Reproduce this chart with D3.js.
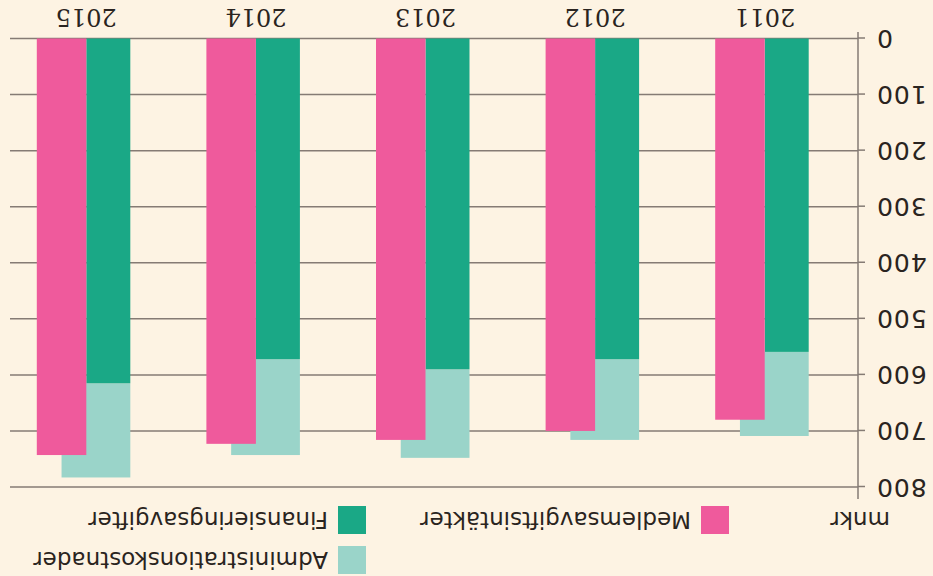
<!DOCTYPE html>
<html>
<head>
<meta charset="utf-8">
<script src="https://cdn.jsdelivr.net/npm/d3@7"></script>
<style>
  html, body { margin: 0; padding: 0; background: #FDF3E3; }
  svg { display: block; }
</style>
</head>
<body>
<svg id="chart" width="933" height="576"></svg>
<script>
// ---- data ----
const years = ["2011", "2012", "2013", "2014", "2015"];
const medlemsavgiftsintakter = [680, 700, 716, 723, 743];
const finansieringsavgifter = [559, 572, 590, 572, 615];
const administrationskostnader = [150, 144, 158, 171, 168];
const yTicks = [0, 100, 200, 300, 400, 500, 600, 700, 800];
const seriesNames = ["Medlemsavgiftsintäkter", "Finansieringsavgifter", "Administrationskostnader"];
const unitLabel = "mnkr";

// ---- styles ----
const W = 933, H = 576;
const colPink = "#EF5A9C", colGreen = "#1AA886", colTeal = "#9AD4C9";
const colText = "#2a2420", colGrid = "#857b74", bg = "#FDF3E3";

const svg = d3.select("#chart");
svg.append("rect").attr("width", W).attr("height", H).attr("fill", bg);

// whole chart is drawn rotated 180 degrees, as in the reference
const g = svg.append("g").attr("transform", `rotate(180, ${W / 2}, ${H / 2})`);

const x = d3.scaleBand().domain(years).range([85, 933]).padding(0);
const y = d3.scaleLinear().domain([0, 800]).range([537.5, 89]);

const axisX = 75;
const gridRight = 923;

// gridlines
g.append("g").selectAll("line").data(yTicks).join("line")
  .attr("x1", axisX).attr("x2", gridRight)
  .attr("y1", d => y(d)).attr("y2", d => y(d))
  .attr("stroke", colGrid).attr("stroke-width", 1.5);

// bars
const greenW = 44, pinkW = 49.5;
const center = yr => x(yr) + x.bandwidth() / 2 - 1.5;
const rows = years.map((yr, i) => ({
  yr, med: medlemsavgiftsintakter[i], fin: finansieringsavgifter[i], adm: administrationskostnader[i]
}));
const bars = g.append("g");
// admin stacked on top of financing, drawn behind the pink bar
bars.selectAll(".adm").data(rows).join("rect")
  .attr("x", d => center(d.yr) - greenW)
  .attr("width", greenW + pinkW / 2)
  .attr("y", d => y(d.fin + d.adm))
  .attr("height", d => y(d.fin) - y(d.fin + d.adm))
  .attr("fill", colTeal);
bars.selectAll(".fin").data(rows).join("rect")
  .attr("x", d => center(d.yr) - greenW)
  .attr("width", greenW)
  .attr("y", d => y(d.fin))
  .attr("height", d => y(0) - y(d.fin))
  .attr("fill", colGreen);
bars.selectAll(".med").data(rows).join("rect")
  .attr("x", d => center(d.yr))
  .attr("width", pinkW)
  .attr("y", d => y(d.med))
  .attr("height", d => y(0) - y(d.med))
  .attr("fill", colPink);

// y axis
const yAxis = d3.axisLeft(y).tickValues(yTicks).tickSize(7).tickPadding(11).tickFormat(d3.format("d"));
const ya = g.append("g").attr("transform", `translate(${axisX},0)`).call(yAxis);
ya.select(".domain").remove();
ya.append("line").attr("x1", 0).attr("x2", 0).attr("y1", 77).attr("y2", 544)
  .attr("stroke", colGrid).attr("stroke-width", 1.5);
ya.selectAll(".tick line").attr("stroke", colGrid).attr("stroke-width", 1.5);
ya.selectAll(".tick text")
  .attr("fill", colText)
  .style("font-family", "'DejaVu Sans', sans-serif")
  .style("font-size", "25px")
  .style("letter-spacing", "1px");

// year labels
g.append("g").selectAll("text").data(years).join("text")
  .attr("x", d => center(d)).attr("y", 567)
  .attr("text-anchor", "middle")
  .attr("fill", colText)
  .style("font-family", "'DejaVu Serif', serif")
  .style("font-size", "24px")
  .text(d => d);

// legend
const legend = [
  { name: seriesNames[0], color: colPink, x: 204, y: 42 },
  { name: seriesNames[1], color: colGreen, x: 567, y: 42 },
  { name: seriesNames[2], color: colTeal, x: 567, y: 2 }
];
const lg = g.append("g");
lg.selectAll("rect").data(legend).join("rect")
  .attr("x", d => d.x).attr("y", d => d.y).attr("width", 28).attr("height", 28)
  .attr("fill", d => d.color);
lg.selectAll("text").data(legend).join("text")
  .attr("x", d => d.x + 38).attr("y", d => d.y + 22)
  .attr("fill", colText)
  .style("font-family", "'DejaVu Sans', sans-serif")
  .style("font-size", "23px")
  .text(d => d.name);
g.append("text").attr("x", 43).attr("y", 64)
  .attr("fill", colText)
  .style("font-family", "'DejaVu Sans', sans-serif")
  .style("font-size", "23px")
  .text(unitLabel);
</script>
</body>
</html>
